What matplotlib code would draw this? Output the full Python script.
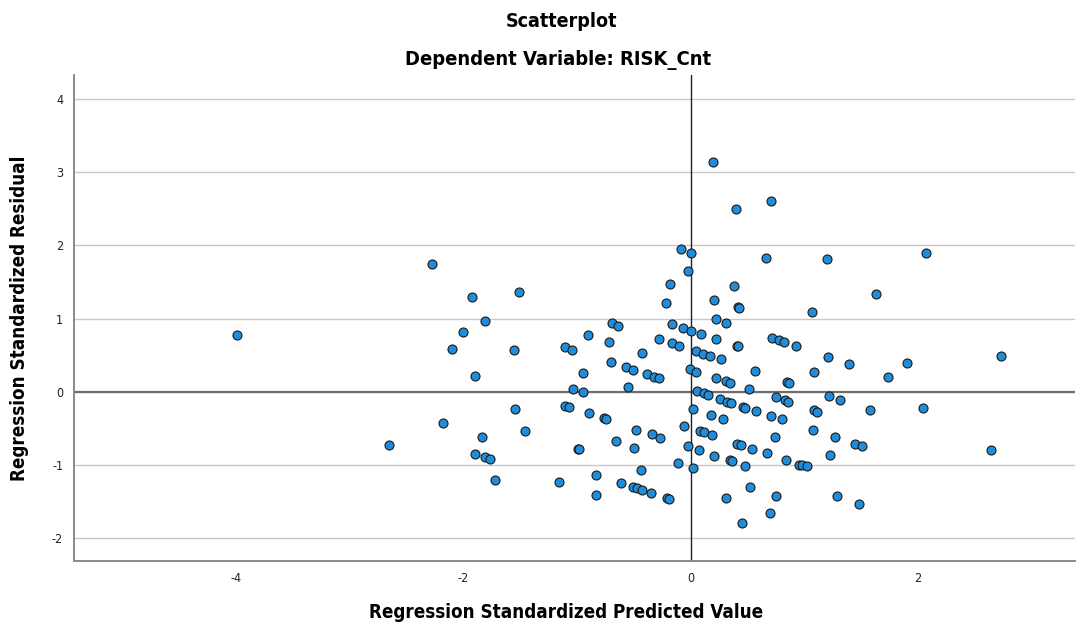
import matplotlib
matplotlib.use("Agg")
import matplotlib.pyplot as plt
import numpy as np

plt.rcParams['font.family'] = ['DejaVu Sans']
plt.rcParams['font.stretch'] = 'condensed'
plt.rcParams['axes.unicode_minus'] = False

# regression standardized predicted value / residual
pred = [-3.99, -2.65, -2.27, -2.18, -2.10, -2.00, -1.92, -1.90, -1.895, -1.83,
        -1.81, -1.81, -1.76, -1.72, -1.55, -1.54, -1.51, -1.46,
        -1.16, -1.10, -1.045, -1.10, -1.07, -1.03, -0.99, -0.98, -0.95, -0.95,
        -0.90, -0.89, -0.83, -0.83, -0.76, -0.74, -0.72, -0.70, -0.69, -0.66,
        -0.64, -0.61, -0.565, -0.55, -0.51, -0.51, -0.50, -0.48, -0.47, -0.44,
        -0.43, -0.43, -0.38, -0.345, -0.34, -0.32, -0.28, -0.28, -0.265, -0.22,
        -0.21, -0.19, -0.18, -0.16, -0.16, -0.107, -0.10, -0.084, -0.066, -0.057,
        -0.025, -0.02, -0.004, 0.007, 0.007, 0.02, 0.025, 0.046, 0.046, 0.057,
        0.075, 0.083, 0.095, 0.11, 0.12, 0.12, 0.15, 0.17, 0.18, 0.186,
        0.20, 0.207, 0.21, 0.227, 0.227, 0.227, 0.257, 0.27, 0.286, 0.31,
        0.31, 0.315, 0.32, 0.345, 0.35, 0.356, 0.365, 0.38, 0.40, 0.41,
        0.41, 0.42, 0.42, 0.43, 0.44, 0.45, 0.46, 0.48, 0.48, 0.51,
        0.52, 0.54, 0.565, 0.58, 0.66, 0.67, 0.70, 0.71, 0.71, 0.717,
        0.746, 0.75, 0.75, 0.78, 0.80, 0.82, 0.83, 0.84, 0.846, 0.86,
        0.864, 0.93, 0.957, 0.978, 1.02, 1.07, 1.08, 1.086, 1.09, 1.115,
        1.20, 1.21, 1.215, 1.23, 1.27, 1.29, 1.315, 1.39, 1.45, 1.485,
        1.51, 1.576, 1.63, 1.74, 1.90, 2.045, 2.07, 2.645, 2.73]
resid = [0.77, -0.73, 1.74, -0.43, 0.59, 0.81, 1.30, 0.22, -0.85, -0.62,
         0.97, -0.90, -0.92, -1.21, 0.575, -0.24, 1.36, -0.54,
         -1.23, 0.607, 0.575, -0.19, -0.21, 0.04, -0.78, -0.79, 0.26, -0.01,
         0.775, -0.29, -1.14, -1.41, -0.365, -0.38, 0.675, 0.40, 0.935, -0.68,
         0.90, -1.25, 0.333, 0.06, 0.30, -1.30, -0.77, -0.52, -1.32, -1.07,
         0.53, -1.34, 0.237, -1.39, -0.585, 0.205, 0.72, 0.18, -0.63, 1.21,
         -1.46, -1.47, 1.47, 0.93, 0.66, -0.97, 0.62, 1.95, 0.87, -0.47,
         -0.75, 1.65, 0.305, 1.90, 0.835, -0.24, -1.04, 0.55, 0.27, 0.008,
         -0.80, -0.54, 0.79, 0.52, -0.55, -0.02, -0.04, 0.49, -0.32, -0.59,
         3.14, 1.26, -0.88, 0.99, 0.72, 0.19, -0.10, 0.45, -0.38, 0.94,
         -1.46, 0.14, -0.14, -0.94, 0.12, -0.15, -0.955, 1.44, 2.50, 0.63,
         -0.71, 1.16, 0.62, 1.15, -0.73, -1.80, -0.205, -0.22, -1.02, 0.04,
         -1.31, -0.78, 0.28, -0.27, 1.835, -0.845, -1.66, 2.61, -0.33, 0.73,
         -0.62, -0.08, -1.425, 0.70, -0.38, 0.675, -0.12, -0.94, 0.13, -0.14,
         0.12, 0.625, -1.00, -1.00, -1.02, 1.086, -0.52, 0.27, -0.256, -0.28,
         1.82, 0.48, -0.06, -0.87, -0.62, -1.43, -0.115, 0.38, -0.72, -1.54,
         -0.745, -0.25, 1.33, 0.20, 0.39, -0.22, 1.90, -0.80, 0.49]

xticks = [-4, -2, 0, 2]
yticks = [-2, -1, 0, 1, 2, 3, 4]

fig = plt.figure(figsize=(10.77, 6.27), dpi=100)
ax = fig.add_axes([0.069, 0.105, 0.929, 0.775])

# grid + reference lines
for yv in yticks:
    ax.axhline(yv, color='#c8c8c8', lw=1.0, zorder=0)
ax.axhline(0, color='#6e6e6e', lw=1.6, zorder=1)
ax.axvline(0, color='#222222', lw=1.0, zorder=1)

ax.scatter(pred, resid, s=42, c='#1f8ddb', edgecolors='#1a1a1a', linewidths=0.8, zorder=3)

ax.set_xlim(-5.42, 3.38)
ax.set_ylim(-2.32, 4.33)
ax.set_xticks(xticks)
ax.set_yticks(yticks)
ax.tick_params(length=0, labelsize=9, pad=8, colors='#222222')

for s in ['top', 'right']:
    ax.spines[s].set_visible(False)
for s in ['left', 'bottom']:
    ax.spines[s].set_color('#8a8a8a')
    ax.spines[s].set_linewidth(1.4)

ax.set_xlabel('Regression Standardized Predicted Value', fontsize=13.5, fontweight='bold')
ax.set_ylabel('Regression Standardized Residual', fontsize=13.5, fontweight='bold')
ax.xaxis.set_label_coords(0.491, -0.086)
ax.yaxis.set_label_coords(-0.045, 0.5)

fig.text(0.521, 0.965, 'Scatterplot', ha='center', va='center', fontsize=14, fontweight='bold')
fig.text(0.518, 0.904, 'Dependent Variable: RISK_Cnt', ha='center', va='center', fontsize=14.5, fontweight='bold')

fig.savefig('out.png', dpi=100)
